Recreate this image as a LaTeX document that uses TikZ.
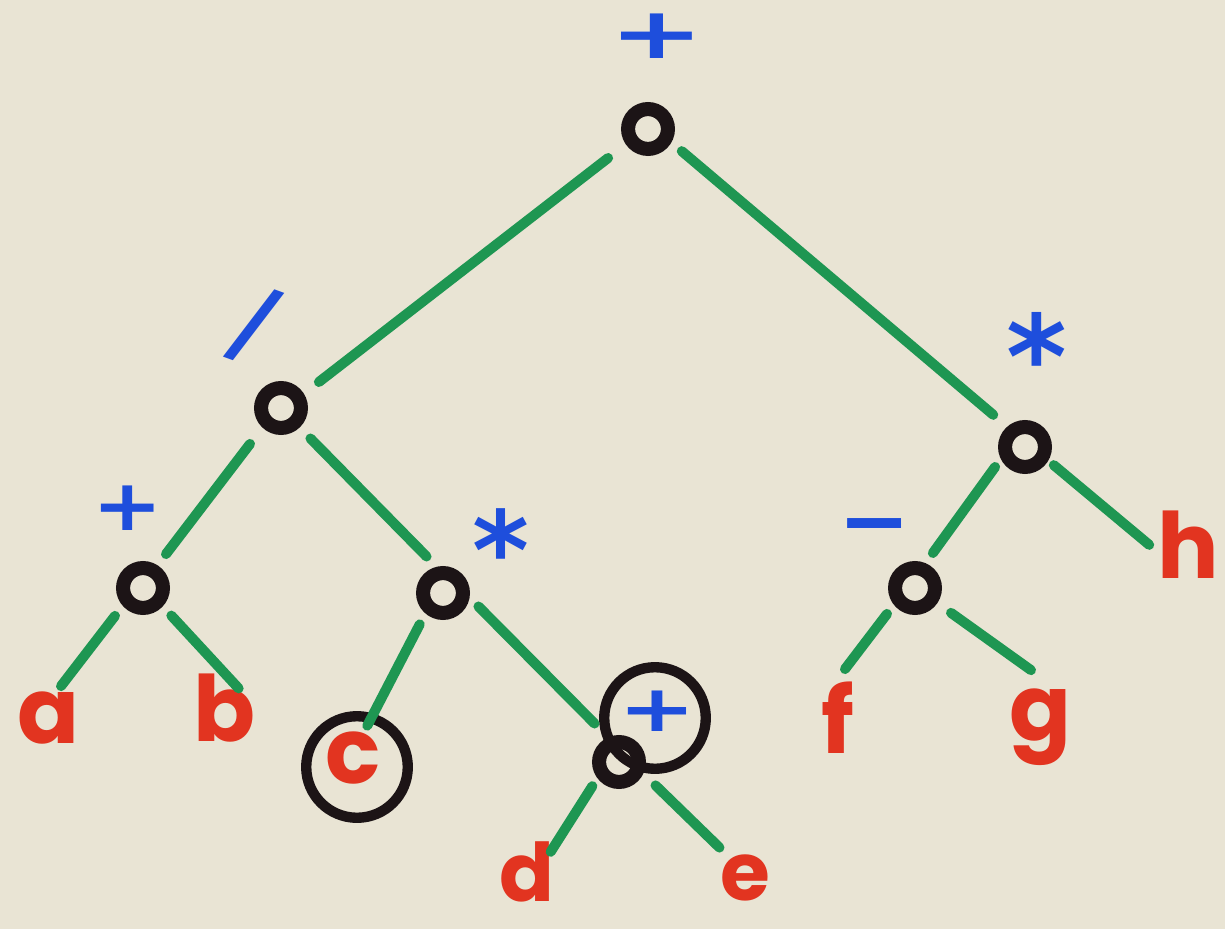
\documentclass[tikz,border=0pt]{standalone}
\usepackage{fontspec}
\usepackage{graphicx}
\newfontfamily\opfont{DejaVu Sans}
\newfontfamily\leaffont{Poppins}
\definecolor{paper}{RGB}{233,228,212}
\definecolor{branch}{RGB}{30,150,82}
\definecolor{opblue}{RGB}{30,78,220}
\definecolor{leafred}{RGB}{226,52,32}
\definecolor{ink}{RGB}{28,20,22}
\begin{document}
\begin{tikzpicture}[x=0.02cm,y=-0.02cm,
  ring/.style={circle,draw=ink,line width=8pt,minimum size=22.7pt,inner sep=0pt},
  hilite/.style={circle,draw=ink,line width=5.9pt,minimum size=57.8pt,inner sep=0pt},
  edge/.style={draw=branch,line width=5.7pt,line cap=round,shorten <=2.8pt,shorten >=2.8pt},
  leaf/.style={text=leafred,inner sep=0pt,font=\leaffont\bfseries\fontsize{52pt}{52pt}\selectfont},
  lowleaf/.style={leaf,font=\leaffont\bfseries\fontsize{46pt}{46pt}\selectfont},
  op/.style={text=opblue,inner sep=0pt,font=\opfont\bfseries\fontsize{46pt}{46pt}\selectfont}]
\fill[paper] (0,0) rectangle (1225,929);
\useasboundingbox (0,0) rectangle (1225,929);

% operator rings
\node[ring] (R) at (648,129) {};
\node[ring] (D) at (281,408) {};
\node[ring] (T) at (1025,447) {};
\node[ring] (P) at (143,588) {};
\node[ring] (M) at (443,593) {};
\node[ring] (S) at (915,588) {};
\node[ring] (Q) at (619,762) {};

% operator symbols
\node[op] (oR) at (657,36) {\scalebox{1.4}[0.88]{+}};
\node[op,rotate=-20,font=\opfont\bfseries\fontsize{56pt}{56pt}\selectfont] (oD) at (254,325) {/};
\node[op,font=\opfont\bfseries\fontsize{66pt}{66pt}\selectfont] (oT) at (1037,355) {*};
\node[op] (oP) at (128,508) {\scalebox{1.04}[0.88]{+}};
\node[op,font=\opfont\bfseries\fontsize{62pt}{62pt}\selectfont] (oM) at (501,549) {*};
\node[op,font=\opfont\bfseries\fontsize{49pt}{49pt}\selectfont] (oS) at (875,535) {−};
\node[op] (oQ) at (657,711) {\scalebox{1.15}[0.8]{+}};

% operands
\node[leaf] (a) at (49,718) {a};
\node[leaf] (b) at (225,708) {b};
\node[leaf] (c) at (353,758) {c};
\node[lowleaf] (d) at (527,872) {d};
\node[lowleaf] (e) at (745,878) {e};
\node[leaf] (f) at (838,718) {f};
\node[leaf] (g) at (1041,727) {g};
\node[leaf] (h) at (1188,545) {h};

% highlight circles
\node[hilite] (hc) at (357,767) {};
\node[hilite] (hq) at (655,718) {};

% branches
\draw[edge] ([shift={(-36,26)}]R.center) -- ([shift={(34,-23)}]D.center);
\draw[edge] ([shift={(30,19)}]R.center) -- ([shift={(-28,-29)}]T.center);
\draw[edge] ([shift={(-28,32)}]D.center) -- ([shift={(20,-30)}]P.center);
\draw[edge] ([shift={(26,27)}]D.center) -- ([shift={(-13,-33)}]M.center);
\draw[edge] ([shift={(-27,16)}]T.center) -- ([shift={(15,-31)}]S.center);
\draw[edge] ([shift={(25,15)}]T.center) -- ([shift={(-35,3)}]h.center);
\draw[edge] ([shift={(-25,24)}]P.center) -- ([shift={(9,-28)}]a.center);
\draw[edge] ([shift={(25,24)}]P.center) -- ([shift={(17,-16)}]b.center);
\draw[edge] ([shift={(-21,27)}]M.center) -- ([shift={(12,-28)}]c.center);
\draw[edge] ([shift={(32,10)}]M.center) -- ([shift={(-21,-35)}]Q.center);
\draw[edge] ([shift={(-24,20)}]Q.center) -- ([shift={(21,-16)}]d.center);
\draw[edge] ([shift={(33,20)}]Q.center) -- ([shift={(-22,-27)}]e.center);
\draw[edge] ([shift={(-25,22)}]S.center) -- ([shift={(4,-45)}]f.center);
\draw[edge] ([shift={(32,22)}]S.center) -- ([shift={(-6,-54)}]g.center);
\end{tikzpicture}
\end{document}
